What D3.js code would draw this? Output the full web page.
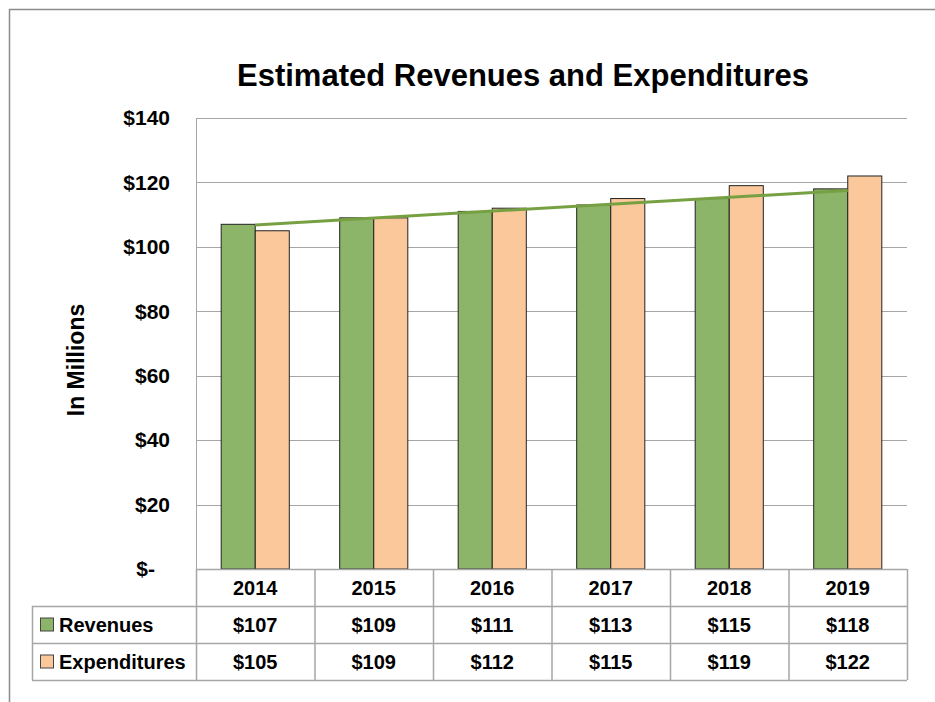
<!DOCTYPE html>
<html>
<head>
<meta charset="utf-8">
<script src="https://cdn.jsdelivr.net/npm/d3@7"></script>
<style>
  body { margin: 0; background: #fff; }
  svg text { font-family: "Liberation Sans", Arial, sans-serif; font-weight: bold; fill: #000; }
</style>
</head>
<body>
<div id="chart"></div>
<script>
var years = ["2014", "2015", "2016", "2017", "2018", "2019"];
var revenues = [107, 109, 111, 113, 115, 118];
var expenditures = [105, 109, 112, 115, 119, 122];
var yTicks = [0, 20, 40, 60, 80, 100, 120, 140];
var seriesNames = ["Revenues", "Expenditures"];
var seriesColors = ["#8cb56a", "#fac89b"];

var width = 935, height = 702;
var plot = {left: 196, right: 907, top: 118, bottom: 569};
var rowH = 37;

var svg = d3.select("#chart").append("svg")
    .attr("width", width)
    .attr("height", height);

// outer frame
svg.append("path")
    .attr("d", "M9.5," + height + "V9.5H" + width)
    .attr("fill", "none")
    .attr("stroke", "#8c8c8c")
    .attr("stroke-width", 1.5);

var x = d3.scaleBand().domain(years).range([plot.left, plot.right]);
var xInner = d3.scaleBand().domain(seriesNames).range([0, x.bandwidth()]).paddingInner(0).paddingOuter(0.74);
var y = d3.scaleLinear().domain([0, 140]).range([plot.bottom, plot.top]);

// gridlines
svg.append("g").selectAll("line")
    .data(yTicks.filter(d => d > 0))
    .enter().append("line")
    .attr("x1", plot.left).attr("x2", plot.right)
    .attr("y1", d => Math.round(y(d)) + 0.5).attr("y2", d => Math.round(y(d)) + 0.5)
    .attr("stroke", "#a6a6a6").attr("stroke-width", 1);

// y axis
var yAxis = svg.append("g")
    .attr("transform", "translate(" + plot.left + ",0)")
    .call(d3.axisLeft(y).tickValues(yTicks).tickSize(0).tickPadding(26)
        .tickFormat(d => d === 0 ? "$-" : "$" + d));
yAxis.select(".domain").attr("stroke", "#a6a6a6");
yAxis.selectAll("text")
    .style("font-size", "21px")
    .attr("dx", d => d === 0 ? -15 : 0);

svg.append("text")
    .attr("transform", "translate(84,360) rotate(-90)")
    .attr("text-anchor", "middle")
    .style("font-size", "23px")
    .text("In Millions");

// bars
var data = years.map((yr, i) => ({year: yr, values: [revenues[i], expenditures[i]]}));
var groups = svg.append("g").selectAll("g")
    .data(data)
    .enter().append("g")
    .attr("transform", d => "translate(" + x(d.year) + ",0)");
groups.selectAll("rect")
    .data(d => d.values.map((v, j) => ({name: seriesNames[j], value: v, j: j})))
    .enter().append("rect")
    .attr("x", d => xInner(d.name))
    .attr("width", xInner.bandwidth())
    .attr("y", d => y(d.value))
    .attr("height", d => y(0) - y(d.value))
    .attr("fill", d => seriesColors[d.j])
    .attr("stroke", "#222")
    .attr("stroke-width", 1);

// linear trendline of revenues
var n = revenues.length;
var mx = d3.mean(revenues, (d, i) => i), my = d3.mean(revenues);
var slope = d3.sum(revenues, (d, i) => (i - mx) * (d - my)) / d3.sum(revenues, (d, i) => (i - mx) * (i - mx));
var icpt = my - slope * mx;
svg.append("line")
    .attr("x1", x(years[0]) + x.bandwidth() / 2)
    .attr("y1", y(icpt))
    .attr("x2", x(years[n - 1]) + x.bandwidth() / 2)
    .attr("y2", y(icpt + slope * (n - 1)))
    .attr("stroke", "#77a043")
    .attr("stroke-width", 3);

// data table
var table = svg.append("g");
var tLeft = 32;
var lineColor = "#a6a6a6";
// horizontal lines
[0, 1, 2, 3].forEach(function(r) {
    var yy = plot.bottom + r * rowH + 0.5;
    table.append("line")
        .attr("x1", r === 0 ? plot.left : tLeft).attr("x2", plot.right)
        .attr("y1", yy).attr("y2", yy)
        .attr("stroke", lineColor).attr("stroke-width", 1.5);
});
// vertical lines
var vx = [tLeft].concat(years.map(yr => x(yr))).concat([plot.right]);
vx.forEach(function(v, i) {
    table.append("line")
        .attr("x1", v + 0.5).attr("x2", v + 0.5)
        .attr("y1", i === 0 ? plot.bottom + rowH : plot.bottom)
        .attr("y2", plot.bottom + 3 * rowH)
        .attr("stroke", lineColor).attr("stroke-width", 1.5);
});
// year row
table.selectAll(".yr")
    .data(years)
    .enter().append("text")
    .attr("class", "yr")
    .attr("x", d => x(d) + x.bandwidth() / 2)
    .attr("y", plot.bottom + rowH / 2)
    .attr("dy", "0.35em")
    .attr("text-anchor", "middle")
    .style("font-size", "20px")
    .text(d => d);
// series rows
[revenues, expenditures].forEach(function(vals, r) {
    var cy = plot.bottom + (r + 1) * rowH + rowH / 2;
    table.append("rect")
        .attr("x", 40.5).attr("y", cy - 6.5)
        .attr("width", 13).attr("height", 13)
        .attr("fill", seriesColors[r])
        .attr("stroke", "#444").attr("stroke-width", 1);
    table.append("text")
        .attr("x", 59).attr("y", cy).attr("dy", "0.35em")
        .style("font-size", "20px")
        .text(seriesNames[r]);
    table.selectAll(".v" + r)
        .data(vals)
        .enter().append("text")
        .attr("x", (d, i) => x(years[i]) + x.bandwidth() / 2)
        .attr("y", cy).attr("dy", "0.35em")
        .attr("text-anchor", "middle")
        .style("font-size", "20px")
        .text(d => "$" + d);
});

// title
svg.append("text")
    .attr("x", 523).attr("y", 86)
    .attr("text-anchor", "middle")
    .style("font-size", "31px")
    .text("Estimated Revenues and Expenditures");
</script>
</body>
</html>
